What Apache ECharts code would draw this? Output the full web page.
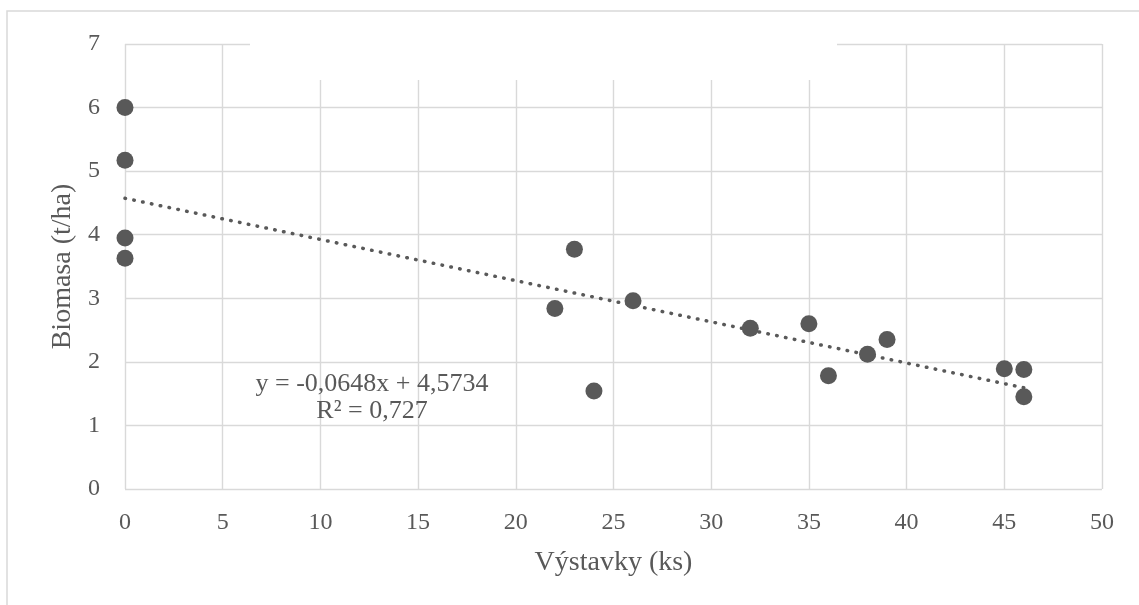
<!DOCTYPE html>
<html>
<head>
<meta charset="utf-8">
<script src="https://cdn.jsdelivr.net/npm/echarts@6/dist/echarts.min.js"></script>
<style>
  html, body { margin: 0; padding: 0; background: #ffffff; }
  #chart { width: 1139px; height: 605px; }
</style>
</head>
<body>
<div id="chart"></div>
<script>
// Data
const vystavky = [0, 0, 0, 0, 22, 23, 24, 26, 32, 35, 36, 38, 39, 45, 46, 46];
const biomasa  = [6.00, 5.17, 3.95, 3.63, 2.84, 3.77, 1.54, 2.96, 2.53, 2.60, 1.78, 2.12, 2.35, 1.89, 1.88, 1.45];
const trendX = [0, 46];
const trendY = [4.5734, 1.5926];
const xTicks = { min: 0, max: 50, interval: 5 };
const yTicks = { min: 0, max: 7, interval: 1 };
const equationText = ['y = -0,0648x + 4,5734', 'R² = 0,727'];
const xTitle = 'Výstavky (ks)';
const yTitle = 'Biomasa (t/ha)';

const FONT = '"Liberation Serif", "Times New Roman", serif';
const TEXT = '#595959';
const GRIDC = '#d9d9d9';

const chart = echarts.init(document.getElementById('chart'), null, { renderer: 'canvas' });
const points = vystavky.map((x, i) => [x, biomasa[i]]);
const trend = trendX.map((x, i) => [x, trendY[i]]);

chart.setOption({
  animation: false,
  backgroundColor: '#ffffff',
  grid: { left: 125, right: 37, top: 44, bottom: 116, containLabel: false },
  xAxis: {
    type: 'value', min: xTicks.min, max: xTicks.max, interval: xTicks.interval,
    name: xTitle, nameLocation: 'middle', nameGap: 60,
    nameTextStyle: { fontFamily: FONT, fontSize: 28, color: TEXT },
    axisLine: { show: false }, axisTick: { show: false },
    axisLabel: { fontFamily: FONT, fontSize: 24, color: TEXT, margin: 22 },
    splitLine: { show: true, lineStyle: { color: GRIDC, width: 1.4 } }
  },
  yAxis: {
    type: 'value', min: yTicks.min, max: yTicks.max, interval: yTicks.interval,
    name: yTitle, nameLocation: 'middle', nameGap: 48,
    nameTextStyle: { fontFamily: FONT, fontSize: 28, color: TEXT },
    axisLine: { show: false }, axisTick: { show: false },
    axisLabel: { fontFamily: FONT, fontSize: 24, color: TEXT, margin: 25 },
    splitLine: { show: true, lineStyle: { color: GRIDC, width: 1.4 } }
  },
  series: [
    {
      type: 'line', data: trend, symbol: 'none', z: 3,
      lineStyle: { color: TEXT, width: 3.5, type: [0.5, 8.5], cap: 'round' },
      silent: true
    },
    {
      type: 'scatter', data: points, symbol: 'circle', symbolSize: 17, z: 4,
      itemStyle: { color: TEXT, opacity: 1 }
    }
  ],
  graphic: [
    {
      type: 'rect', z: 100, silent: true,
      shape: { x: 250, y: 20, width: 587, height: 60 },
      style: { fill: '#ffffff' }
    },
    {
      type: 'rect', z: 101, silent: true,
      shape: { x: 7, y: 11, width: 1300, height: 800 },
      style: { fill: null, stroke: GRIDC, lineWidth: 1.5 }
    },
    {
      type: 'text', z: 102, silent: true,
      x: 372, y: 371,
      style: {
        text: equationText.join('\n'),
        font: '26px ' + FONT,
        fill: TEXT, align: 'center', verticalAlign: 'top', lineHeight: 27
      }
    }
  ]
});
</script>
</body>
</html>
